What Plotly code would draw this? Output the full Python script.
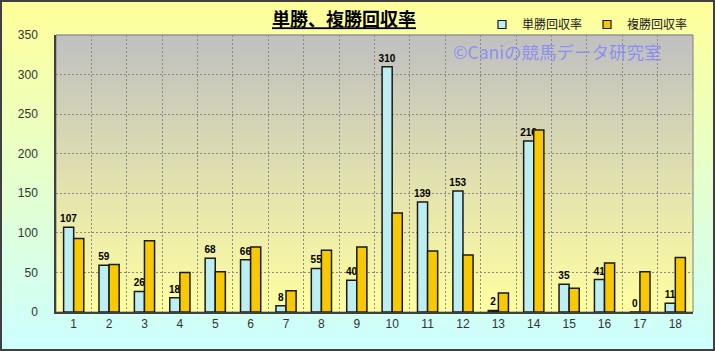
import plotly.graph_objects as go

categories = [str(i) for i in range(1, 19)]
tansho = [107, 59, 26, 18, 68, 66, 8, 55, 40, 310, 139, 153, 2, 216, 35, 41, 0, 11]
fukusho = [93, 60, 90, 50, 51, 82, 27, 78, 82, 125, 77, 72, 24, 230, 30, 62, 51, 69]
y_ticks = [0, 50, 100, 150, 200, 250, 300, 350]

W, H = 715, 351
L, R, T, B = 56, 22, 35, 39
PW, PH = W - L - R, H - T - B

CYAN = "#BDEFF2"
GOLD = "#F8C800"


def hex2rgb(h):
    h = h.lstrip("#")
    return tuple(int(h[i:i + 2], 16) for i in (0, 2, 4))


def mix(c1, c2, t):
    a, b = hex2rgb(c1), hex2rgb(c2)
    return "rgb(%d,%d,%d)" % tuple(round(a[i] + (b[i] - a[i]) * t) for i in range(3))


shapes = []
# figure background gradient (yellow -> cyan)
step = 3
for py in range(0, H, step):
    t = py / (H - 1)
    shapes.append(dict(type="rect", xref="paper", yref="paper", layer="below",
                       x0=-L / PW - 0.01, x1=1 + R / PW + 0.01,
                       y0=(H - B - py - step - 0.5) / PH, y1=(H - B - py + 0.5) / PH,
                       line=dict(width=0), fillcolor=mix("#FFFF99", "#CCFFFF", t)))
# plot-area gradient (gray -> yellow)
for i in range(0, PH, step):
    t = i / (PH - 1)
    shapes.append(dict(type="rect", xref="paper", yref="paper", layer="below",
                       x0=0, x1=1, y0=max(0, (PH - i - step - 0.5) / PH), y1=(PH - i + 0.5) / PH,
                       line=dict(width=0), fillcolor=mix("#C0C0C0", "#FFFFA0", t)))
# plot-area border
shapes.append(dict(type="rect", xref="paper", yref="paper", layer="below",
                   x0=0, x1=1, y0=0, y1=1, line=dict(color="#808080", width=1),
                   fillcolor="rgba(0,0,0,0)"))
# outer frame
shapes.append(dict(type="rect", xref="paper", yref="paper", layer="above",
                   x0=(1 - L) / PW, x1=1 + (R - 1) / PW, y0=-(B - 1) / PH, y1=1 + (T - 1) / PH,
                   line=dict(color="#404040", width=2), fillcolor="rgba(0,0,0,0)"))

fig = go.Figure()
fig.add_trace(go.Bar(x=categories, y=tansho, name="単勝回収率", showlegend=False,
                     marker=dict(color=CYAN, line=dict(color="#1A1A1A", width=1.5)),
                     text=[str(v) for v in tansho], textposition="outside",
                     constraintext="none",
                     textfont=dict(family="Liberation Sans", size=10, color="#000000", weight="bold"),
                     cliponaxis=False))
fig.add_trace(go.Bar(x=categories, y=fukusho, name="複勝回収率", showlegend=False,
                     marker=dict(color=GOLD, line=dict(color="#1A1A1A", width=1.5))))
# legend entries
fig.add_trace(go.Scatter(x=[None], y=[None], mode="markers", name="単勝回収率",
                         marker=dict(symbol="square", size=8, color=CYAN,
                                     line=dict(color="#1A1A1A", width=1.2))))
fig.add_trace(go.Scatter(x=[None], y=[None], mode="markers", name="複勝回収率",
                         marker=dict(symbol="square", size=8, color=GOLD,
                                     line=dict(color="#1A1A1A", width=1.2))))

fig.update_layout(
    width=W, height=H,
    margin=dict(l=L, r=R, t=T, b=B, pad=0, autoexpand=False),
    paper_bgcolor="#E5FFCC",
    plot_bgcolor="rgba(0,0,0,0)",
    barmode="group", bargap=0.43, bargroupgap=0,
    shapes=shapes,
    title=dict(text="<b><u>単勝、複勝回収率</u></b>", x=344 / W, xanchor="center",
               y=1 - 20 / H, yanchor="middle",
               font=dict(family="Noto Sans CJK JP", size=18, color="#000000")),
    legend=dict(orientation="h", x=(482 - L) / PW, xanchor="left", y=1 + (T - 10) / PH, yanchor="top",
                bgcolor="rgba(0,0,0,0)", font=dict(family="Noto Sans CJK JP", size=12, color="#202020"),
                itemwidth=30, tracegroupgap=0),
    annotations=[dict(text="©Caniの競馬データ研究室", xref="paper", yref="paper",
                      x=(557 - L) / PW, y=(H - B - 51) / PH, xanchor="center", yanchor="middle",
                      showarrow=False,
                      font=dict(family="Noto Sans CJK JP", size=17.5, color="rgba(125,130,255,0.8)"))],
    xaxis=dict(type="category", tickson="boundaries", showgrid=True, gridcolor="#8A8A8A",
               griddash="2px,2px", gridwidth=1, showline=True, linecolor="#404040", linewidth=1.5,
               ticks="outside", ticklen=4, tickcolor="rgba(0,0,0,0)",
               tickfont=dict(family="Liberation Sans", size=12, color="#333333")),
    yaxis=dict(range=[0, 350], tickvals=y_ticks, showgrid=True, gridcolor="#8A8A8A",
               griddash="2px,2px", gridwidth=1, zeroline=False, showline=True,
               linecolor="#404040", linewidth=1.5, ticks="outside", ticklen=14,
               tickcolor="rgba(0,0,0,0)",
               tickfont=dict(family="Liberation Sans", size=12, color="#333333")),
)

fig.write_html("out.html")
